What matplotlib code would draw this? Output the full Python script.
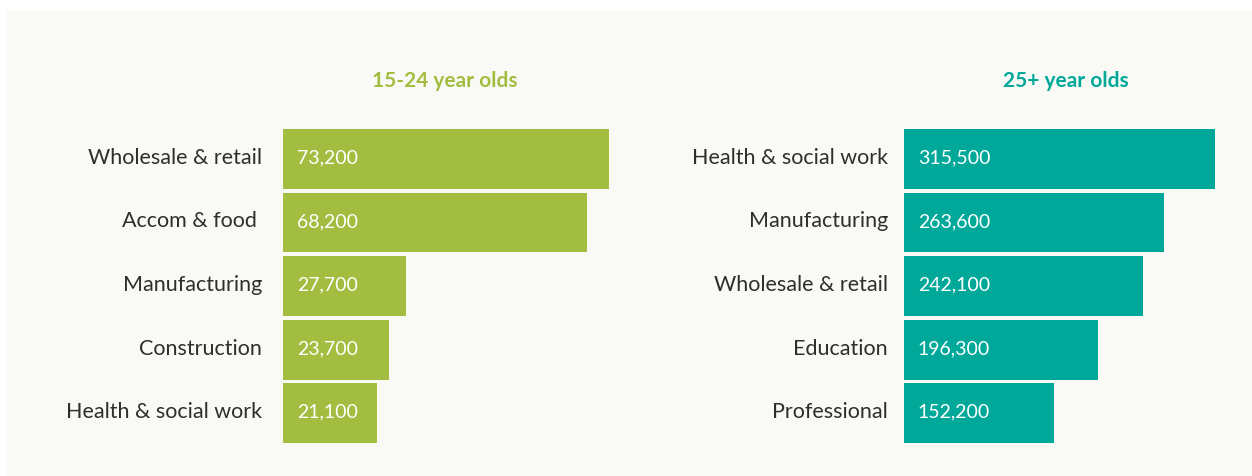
import matplotlib
matplotlib.use("Agg")
import matplotlib.pyplot as plt
from matplotlib.patches import Rectangle

plt.rcParams["font.family"] = ["Lato", "DejaVu Sans"]

# Top industries by number of employed people, per age group
young_title = "15-24 year olds"
young_industries = ["Wholesale & retail", "Accom & food ", "Manufacturing", "Construction", "Health & social work"]
young_values = [73200, 68200, 27700, 23700, 21100]

older_title = "25+ year olds"
older_industries = ["Health & social work", "Manufacturing", "Wholesale & retail", "Education", "Professional"]
older_values = [315500, 263600, 242100, 196300, 152200]

GREEN = "#a3bd40"
TEAL = "#00a89a"
PANEL = "#f9faf5"
INK = "#2e2e2e"

W, H = 1252, 477
fig = plt.figure(figsize=(W / 100, H / 100), dpi=100, facecolor="white")

# light panel behind the whole chart
fig.patches.append(Rectangle((7 / W, 0), 1 - 7 / W, (H - 12) / H,
                             transform=fig.transFigure, facecolor=PANEL,
                             edgecolor="none", zorder=-10))

ax_bottom = (H - 446.2) / H
ax_height = 318.1 / H


def panel(left_px, px_per_unit, xmax, title, title_x_px, color, cats, vals, pad):
    width_px = xmax * px_per_unit
    ax = fig.add_axes([left_px / W, ax_bottom, width_px / W, ax_height])
    ax.set_facecolor("none")
    ax.set_zorder(5)
    y = list(range(len(cats)))
    ax.barh(y, vals, height=0.94, color=color, edgecolor="none")
    ax.set_xlim(0, xmax)
    ax.set_ylim(len(cats) - 0.5, -0.5)
    ax.set_xticks([])
    ax.set_yticks([])
    for s in ax.spines.values():
        s.set_visible(False)
    for yi, cat, v in zip(y, cats, vals):
        # category name to the left of the bar
        ax.annotate(cat, xy=(0, yi), xytext=(-pad, 1.5), textcoords="offset points",
                    ha="right", va="center", color=INK, fontsize=15.5,
                    annotation_clip=False)
        # value inside the bar
        ax.annotate(f"{v:,}", xy=(0, yi), xytext=(10, 1.5), textcoords="offset points",
                    ha="left", va="center", color="white", fontsize=14)
    fig.text(title_x_px / W, (H - 81) / H, title, ha="center", va="center",
             color=color, fontsize=15, fontweight="bold", zorder=6)
    return ax


panel(283, 326 / 73200, 80000, young_title, 445, GREEN,
      young_industries, young_values, pad=15)
panel(904, 311 / 315500, 340000, older_title, 1066, TEAL,
      older_industries, older_values, pad=11.5)

fig.savefig("out.png", dpi=100, facecolor="white")
